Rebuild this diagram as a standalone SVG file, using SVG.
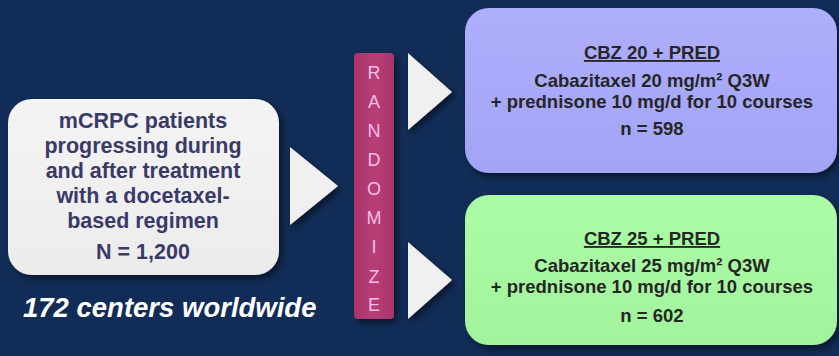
<svg xmlns="http://www.w3.org/2000/svg" width="839" height="356" viewBox="0 0 839 356">
<defs>
<filter id="sh" x="-10%" y="-10%" width="130%" height="130%">
<feGaussianBlur in="SourceAlpha" stdDeviation="3"/>
<feOffset dx="3" dy="4"/>
<feComponentTransfer><feFuncA type="linear" slope="0.5"/></feComponentTransfer>
<feMerge><feMergeNode/><feMergeNode in="SourceGraphic"/></feMerge>
</filter>
<linearGradient id="gGrey" x1="0" y1="0" x2="0" y2="1"><stop offset="0" stop-color="#f4f4f4"/><stop offset="1" stop-color="#ececec"/></linearGradient>
<linearGradient id="gPur" x1="0" y1="0" x2="0" y2="1"><stop offset="0" stop-color="#aeaefc"/><stop offset="1" stop-color="#a4a4f6"/></linearGradient>
<linearGradient id="gGrn" x1="0" y1="0" x2="0" y2="1"><stop offset="0" stop-color="#acfca6"/><stop offset="1" stop-color="#a2f49c"/></linearGradient>
<linearGradient id="gMag" x1="0" y1="0" x2="1" y2="0"><stop offset="0" stop-color="#a8346a"/><stop offset="0.5" stop-color="#b83e76"/><stop offset="1" stop-color="#a8346a"/></linearGradient>
</defs>
<style>
.lt{font-family:"Liberation Sans",Arial,sans-serif;font-weight:bold;font-size:21.5px;fill:#3a3a68;text-anchor:middle}
.rt{font-family:"Liberation Sans",Arial,sans-serif;font-weight:bold;font-size:18.5px;fill:#262626;text-anchor:middle}
.hd{text-decoration:underline}
.rz{font-family:"Liberation Sans",Arial,sans-serif;font-size:18px;fill:#f6bcec;text-anchor:middle}
.tri{fill:#f0f0f0}
</style>
<rect width="839" height="356" fill="#112c56"/>
<g id="connectors" filter="url(#sh)">
<polygon class="tri" points="290,147 338,186 290,225"/>
<polygon class="tri" points="408,53 452,92 408,130"/>
<polygon class="tri" points="408,242 452,280 408,319"/>
</g>
<g id="patients">
<rect x="8" y="99" width="271" height="176" rx="24" fill="url(#gGrey)" filter="url(#sh)"/>
<text class="lt" x="143" y="128">mCRPC patients</text>
<text class="lt" x="143" y="153">progressing during</text>
<text class="lt" x="143" y="178">and after treatment</text>
<text class="lt" x="143" y="203">with a docetaxel-</text>
<text class="lt" x="143" y="228">based regimen</text>
<text class="lt" x="143" y="259">N = 1,200</text>
</g>
<g id="randomize">
<rect x="354" y="53" width="40" height="266" rx="4" fill="url(#gMag)" filter="url(#sh)"/>
<text class="rz" x="374" y="79">R</text>
<text class="rz" x="374" y="108">A</text>
<text class="rz" x="374" y="137">N</text>
<text class="rz" x="374" y="166">D</text>
<text class="rz" x="374" y="195">O</text>
<text class="rz" x="374" y="224">M</text>
<text class="rz" x="374" y="253">I</text>
<text class="rz" x="374" y="283">Z</text>
<text class="rz" x="374" y="311">E</text>
</g>
<g id="arm20">
<rect x="465" y="8" width="372" height="165" rx="24" fill="url(#gPur)" filter="url(#sh)"/>
<text class="rt hd" x="652" y="59">CBZ 20 + PRED</text>
<text class="rt" x="652" y="87">Cabazitaxel 20 mg/m² Q3W</text>
<text class="rt" x="652" y="108">+ prednisone 10 mg/d for 10 courses</text>
<text class="rt" x="652" y="135">n = 598</text>
</g>
<g id="arm25">
<rect x="465" y="195" width="372" height="150" rx="24" fill="url(#gGrn)" filter="url(#sh)"/>
<text class="rt hd" x="652" y="245">CBZ 25 + PRED</text>
<text class="rt" x="652" y="272">Cabazitaxel 25 mg/m² Q3W</text>
<text class="rt" x="652" y="293">+ prednisone 10 mg/d for 10 courses</text>
<text class="rt" x="652" y="322">n = 602</text>
</g>
<text x="23" y="317" font-family="'Liberation Sans',Arial,sans-serif" font-weight="bold" font-style="italic" font-size="27.5" fill="#ffffff">172 centers worldwide</text>
</svg>
